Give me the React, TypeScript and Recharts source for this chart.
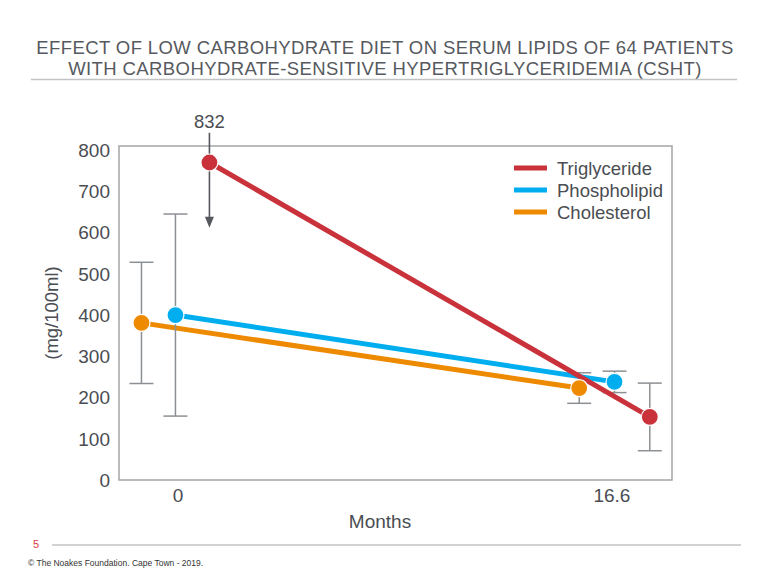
import React from "react";
import {
  LineChart,
  Line,
  XAxis,
  YAxis,
  ErrorBar,
  ReferenceArea,
  ReferenceLine,
} from "recharts";

// Months at which lipids were measured (axis ticks)
const monthTicks = [0, 16.6];
const valueTicks = [0, 100, 200, 300, 400, 500, 600, 700, 800];

// Each series is nudged sideways around the measurement month so the points don't overlap
const cholesterolX = [-1.4, 15.35];
const phospholipidX = [-0.1, 16.7];
const triglycerideX = [1.2, 18.05];

// Mean serum levels (mg/100ml) and their spread
const cholesterolMean = [381, 223];
const cholesterolSpread = [147, 37];
const phospholipidMean = [400, 238];
const phospholipidSpread = [245, 26];
const triglycerideMean = [770, 153];
const triglycerideSpread = [0, 82];

// Reported baseline triglyceride (off the drawn scale)
const triglycerideBaselineLabel = "832";
const arrowFrom = 842;
const arrowTo = 612;

const titleLines = [
  "EFFECT OF LOW CARBOHYDRATE DIET ON SERUM LIPIDS OF 64 PATIENTS",
  "WITH CARBOHYDRATE-SENSITIVE HYPERTRIGLYCERIDEMIA (CSHT)",
];

const build = (xs: number[], ys: number[], es: number[]) =>
  xs.map((x, i) => ({ x, y: ys[i], err: es[i] }));

const cholesterolData = build(cholesterolX, cholesterolMean, cholesterolSpread);
const phospholipidData = build(phospholipidX, phospholipidMean, phospholipidSpread);
const triglycerideData = build(triglycerideX, triglycerideMean, triglycerideSpread);

const RED = "#c9323b";
const BLUE = "#00aeef";
const ORANGE = "#ee8a00";
const TEXT = "#4a4d52";
const FONT = "'Liberation Sans', Arial, sans-serif";

const legendItems = [
  { name: "Triglyceride", color: RED },
  { name: "Phospholipid", color: BLUE },
  { name: "Cholesterol", color: ORANGE },
];

const dotStyle = (color: string) => ({
  r: 8.5,
  fill: color,
  stroke: "#fff",
  strokeWidth: 1.2,
});

const Arrow = (props: any) => {
  const { x1, y1, x2, y2 } = props;
  return (
    <g>
      <text
        x={x1}
        y={y1 - 5}
        textAnchor="middle"
        fontSize={18.5}
        fill={TEXT}
        fontFamily={FONT}
      >
        {triglycerideBaselineLabel}
      </text>
      <line x1={x1} y1={y1} x2={x2} y2={y2 - 9} stroke="#55585c" strokeWidth={1.6} />
      <polygon
        points={`${x2 - 4.5},${y2 - 11} ${x2 + 4.5},${y2 - 11} ${x2},${y2}`}
        fill="#55585c"
      />
    </g>
  );
};

export default function App() {
  return (
    <div style={{ position: "relative", width: 768, height: 576, background: "#fff" }}>
      <style>{`body{margin:0;}`}</style>
      <LineChart
        width={768}
        height={576}
        margin={{ top: 146, right: 96, bottom: 66, left: 59 }}
      >
        <XAxis
          type="number"
          dataKey="x"
          domain={[-2.26, 18.9]}
          ticks={monthTicks}
          allowDataOverflow
          axisLine={false}
          tickLine={false}
          tickMargin={3}
          height={30}
          tick={{ fontSize: 19, fill: TEXT, fontFamily: FONT }}
        />
        <YAxis
          type="number"
          domain={[0, 810]}
          ticks={valueTicks}
          allowDataOverflow
          axisLine={false}
          tickLine={false}
          tickMargin={3}
          width={60}
          tick={{ fontSize: 19, fill: TEXT, fontFamily: FONT }}
        />
        <ReferenceArea
          x1={-2.26}
          x2={18.9}
          y1={0}
          y2={810}
          fill="none"
          stroke="#a3a5a8"
          strokeWidth={1.5}
          fillOpacity={0}
        />
        <ReferenceLine
          segment={[
            { x: triglycerideX[0], y: arrowFrom },
            { x: triglycerideX[0], y: arrowTo },
          ]}
          ifOverflow="visible"
          shape={Arrow}
        />
        <Line
          data={cholesterolData}
          dataKey="y"
          stroke={ORANGE}
          strokeWidth={5}
          dot={dotStyle(ORANGE)}
          activeDot={false}
          isAnimationActive={false}
        >
          <ErrorBar dataKey="err" width={12} stroke="#8c8f93" strokeWidth={1.5} direction="y" />
        </Line>
        <Line
          data={phospholipidData}
          dataKey="y"
          stroke={BLUE}
          strokeWidth={5}
          dot={dotStyle(BLUE)}
          activeDot={false}
          isAnimationActive={false}
        >
          <ErrorBar dataKey="err" width={12} stroke="#8c8f93" strokeWidth={1.5} direction="y" />
        </Line>
        <Line
          data={triglycerideData}
          dataKey="y"
          stroke={RED}
          strokeWidth={5}
          dot={dotStyle(RED)}
          activeDot={false}
          isAnimationActive={false}
        >
          <ErrorBar dataKey="err" width={12} stroke="#8c8f93" strokeWidth={1.5} direction="y" />
        </Line>
      </LineChart>

      <svg
        width={768}
        height={576}
        style={{ position: "absolute", left: 0, top: 0, pointerEvents: "none" }}
        fontFamily={FONT}
      >
        <g fontSize={18.5} fill="#56595e" textAnchor="middle" letterSpacing={0.4}>
          <text x={385} y={53.5}>{titleLines[0]}</text>
          <text x={385} y={74.5}>{titleLines[1]}</text>
        </g>
        <line x1={31} y1={79.5} x2={737} y2={79.5} stroke="#c2c3c5" strokeWidth={1.5} />

        <text
          x={0}
          y={0}
          transform="translate(58 313) rotate(-90)"
          textAnchor="middle"
          fontSize={18.5}
          fill={TEXT}
        >
          (mg/100ml)
        </text>
        <text x={380} y={528} textAnchor="middle" fontSize={19} fill={TEXT}>
          Months
        </text>

        {legendItems.map((item, i) => (
          <g key={item.name}>
            <line
              x1={514}
              x2={547}
              y1={168 + i * 22}
              y2={168 + i * 22}
              stroke={item.color}
              strokeWidth={5}
            />
            <text x={557} y={174.5 + i * 22} fontSize={18.5} fill={TEXT}>
              {item.name}
            </text>
          </g>
        ))}

        <text x={33} y={548} fontSize={11} fill="#e0393e">
          5
        </text>
        <line x1={52} y1={545} x2={741} y2={545} stroke="#c2c3c5" strokeWidth={1.5} />
        <text x={28} y={566} fontSize={8.5} fill="#333">
          © The Noakes Foundation. Cape Town - 2019.
        </text>
      </svg>
    </div>
  );
}
